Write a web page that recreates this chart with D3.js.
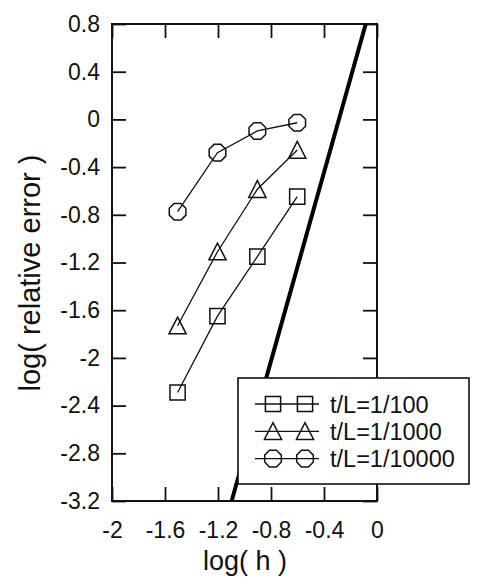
<!DOCTYPE html>
<html lang="en">
<head>
  <meta charset="UTF-8">
  <title>log relative error vs log h</title>
  <script src="https://d3js.org/d3.v7.min.js"></script>
  <style>
    body {
      margin: 0;
      padding: 0;
      background: #fff;
    }
    svg text {
      font-family: "Liberation Sans", Arial, sans-serif;
      fill: #111;
    }
    .series {
      fill: none;
      stroke: #111;
      stroke-width: 1.3px;
    }
    .marker {
      fill: none;
      stroke: #111;
      stroke-width: 1.5px;
    }
  </style>
</head>
<body>
  <div id="chart"></div>

  <script>
    // data
    const logH = [-1.505, -1.204, -0.903, -0.602];
    const err100 = [-2.29, -1.65, -1.15, -0.648];
    const err1000 = [-1.73, -1.11, -0.586, -0.257];
    const err10000 = [-0.774, -0.279, -0.097, -0.028];
    const slopeX = [-1.097, -0.085];
    const slopeY = [-3.2, 0.8];

    const seriesNames = ["t/L=1/100", "t/L=1/1000", "t/L=1/10000"];
    const seriesShapes = ["square", "triangle", "octagon"];
    const seriesValues = [err100, err1000, err10000];

    const xTicks = [-2, -1.6, -1.2, -0.8, -0.4, 0];
    const xTickLabels = ["-2", "-1.6", "-1.2", "-0.8", "-0.4", "0"];
    const yTicks = [0.8, 0.4, 0, -0.4, -0.8, -1.2, -1.6, -2, -2.4, -2.8, -3.2];
    const yTickLabels = ["0.8", "0.4", "0", "-0.4", "-0.8", "-1.2", "-1.6", "-2", "-2.4", "-2.8", "-3.2"];

    const W = 478, H = 579;
    const plot = { left: 112, top: 24, right: 377, bottom: 501 };

    const svg = d3.select("#chart").append("svg")
      .attr("width", W)
      .attr("height", H);

    const x = d3.scaleLinear().domain([-2, 0]).range([plot.left, plot.right]);
    const y = d3.scaleLinear().domain([-3.2, 0.8]).range([plot.bottom, plot.top]);

    const tickLen = 14;

    function styleAxis(g, size) {
      g.select(".domain").remove();
      g.selectAll(".tick line").attr("stroke", "#111").attr("stroke-width", 1.8);
      g.selectAll(".tick text").style("font-size", size + "px").attr("fill", "#111");
    }

    // left axis with labels
    svg.append("g")
      .attr("transform", `translate(${plot.left},0)`)
      .call(d3.axisLeft(y).tickValues(yTicks).tickSize(-tickLen).tickPadding(12)
        .tickFormat((d, i) => yTickLabels[i]))
      .call(g => styleAxis(g, 23));

    // right axis, ticks only
    svg.append("g")
      .attr("transform", `translate(${plot.right},0)`)
      .call(d3.axisRight(y).tickValues(yTicks).tickSize(-tickLen).tickFormat(""))
      .call(g => styleAxis(g, 23));

    // bottom axis with labels
    svg.append("g")
      .attr("transform", `translate(0,${plot.bottom})`)
      .call(d3.axisBottom(x).tickValues(xTicks).tickSize(-tickLen).tickPadding(21)
        .tickFormat((d, i) => xTickLabels[i]))
      .call(g => styleAxis(g, 23));

    // top axis, ticks only
    svg.append("g")
      .attr("transform", `translate(0,${plot.top})`)
      .call(d3.axisTop(x).tickValues(xTicks).tickSize(-tickLen).tickFormat(""))
      .call(g => styleAxis(g, 23));

    // frame
    svg.append("rect")
      .attr("x", plot.left)
      .attr("y", plot.top)
      .attr("width", plot.right - plot.left)
      .attr("height", plot.bottom - plot.top)
      .attr("fill", "none")
      .attr("stroke", "#111")
      .attr("stroke-width", 2);

    // thick reference line
    svg.append("line")
      .attr("x1", x(slopeX[0])).attr("y1", y(slopeY[0]))
      .attr("x2", x(slopeX[1])).attr("y2", y(slopeY[1]))
      .attr("stroke", "#000")
      .attr("stroke-width", 4);

    function markerPath(shape) {
      if (shape === "square") {
        const s = 7.6;
        return `M${-s},${-s}H${s}V${s}H${-s}Z`;
      }
      if (shape === "triangle") {
        return "M0,-8.6L8.6,8.1L-8.6,8.1Z";
      }
      const r = 9;
      const pts = d3.range(8).map(k => {
        const a = Math.PI / 8 + k * Math.PI / 4;
        return [r * Math.cos(a), r * Math.sin(a)];
      });
      return "M" + pts.map(p => p.join(",")).join("L") + "Z";
    }

    const line = d3.line().x(d => x(d[0])).y(d => y(d[1]));

    seriesValues.forEach((vals, si) => {
      const pts = logH.map((h, i) => [h, vals[i]]);
      svg.append("path")
        .attr("class", "series")
        .attr("d", line(pts));
      svg.selectAll(null)
        .data(pts)
        .enter().append("path")
        .attr("class", "marker")
        .attr("transform", d => `translate(${x(d[0])},${y(d[1])})`)
        .attr("d", markerPath(seriesShapes[si]));
    });

    // legend
    const legend = svg.append("g");
    legend.append("rect")
      .attr("x", 238).attr("y", 378)
      .attr("width", 231).attr("height", 106)
      .attr("fill", "#fff")
      .attr("stroke", "#111")
      .attr("stroke-width", 1.6);

    seriesNames.forEach((name, i) => {
      const ry = 404 + i * 27.3;
      legend.append("line")
        .attr("x1", 255).attr("x2", 319)
        .attr("y1", ry).attr("y2", ry)
        .attr("stroke", "#111")
        .attr("stroke-width", 1.3);
      [273, 305].forEach(mx => {
        legend.append("path")
          .attr("class", "marker")
          .attr("transform", `translate(${mx},${ry})`)
          .attr("d", markerPath(seriesShapes[i]));
      });
      legend.append("text")
        .attr("x", 330)
        .attr("y", ry + 8.5)
        .style("font-size", "23.5px")
        .text(name);
    });

    // axis titles
    svg.append("text")
      .attr("x", 245)
      .attr("y", 570)
      .attr("text-anchor", "middle")
      .style("font-size", "27px")
      .text("log( h )");

    svg.append("text")
      .attr("transform", "translate(40,273) rotate(-90)")
      .attr("text-anchor", "middle")
      .style("font-size", "29px")
      .text("log( relative error )");
  </script>
</body>
</html>
